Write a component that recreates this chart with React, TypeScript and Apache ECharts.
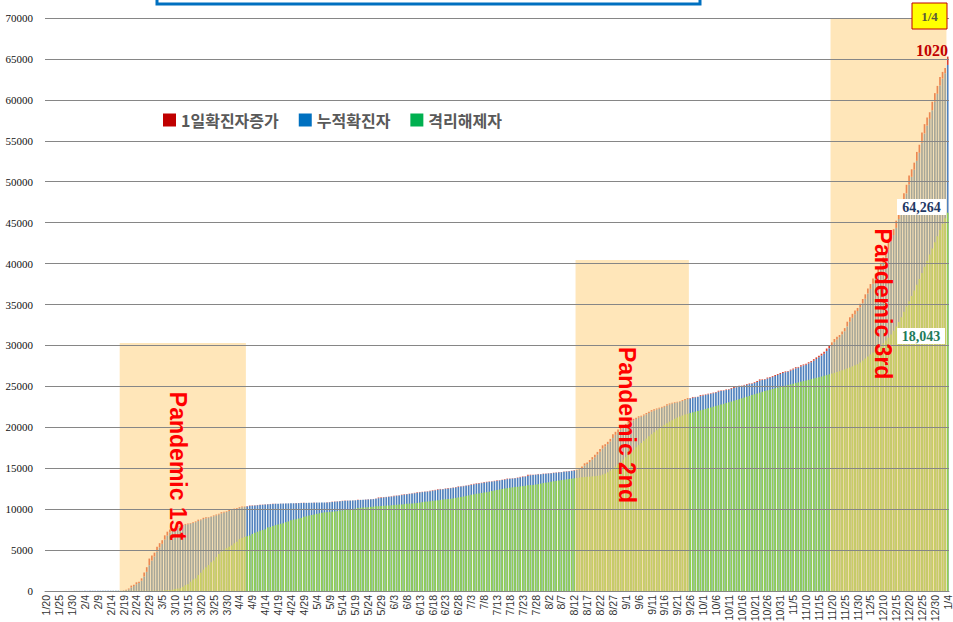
import React, { useEffect, useRef } from "react";
import * as echarts from "echarts";

// Cumulative confirmed cases (누적확진자), by month, 2020-01-20 .. 2021-01-04
const confirmedJan = [1, 1, 1, 1, 2, 2, 3, 4, 4, 4, 6, 11];
const confirmedFeb = [12, 15, 15, 16, 18, 23, 24, 24, 25, 27, 28, 28, 28, 28, 28, 29, 30, 31, 51, 104, 204, 433, 602, 833, 977, 1261, 1766, 2337, 3150];
const confirmedMar = [3736, 4212, 4812, 5328, 5766, 6284, 6767, 7134, 7382, 7513, 7755, 7869, 7979, 8086, 8162, 8236, 8320, 8413, 8565, 8652, 8799, 8897, 8961, 9037, 9137, 9241, 9332, 9478, 9583, 9661, 9786];
const confirmedApr = [9887, 9976, 10062, 10156, 10237, 10284, 10331, 10384, 10423, 10450, 10480, 10512, 10537, 10564, 10591, 10613, 10635, 10653, 10661, 10674, 10683, 10694, 10702, 10708, 10718, 10728, 10738, 10752, 10761, 10765];
const confirmedMay = [10774, 10780, 10793, 10801, 10804, 10806, 10810, 10822, 10840, 10874, 10909, 10936, 10962, 10991, 11018, 11037, 11050, 11065, 11078, 11110, 11122, 11142, 11165, 11190, 11206, 11225, 11265, 11344, 11402, 11441, 11468];
const confirmedJun = [11503, 11541, 11590, 11629, 11668, 11719, 11776, 11814, 11852, 11902, 11947, 12003, 12051, 12085, 12121, 12155, 12198, 12257, 12306, 12373, 12421, 12438, 12484, 12535, 12563, 12602, 12653, 12715, 12757, 12800];
const confirmedJul = [12850, 12904, 12967, 13030, 13091, 13137, 13181, 13244, 13293, 13338, 13373, 13417, 13479, 13512, 13551, 13612, 13672, 13711, 13745, 13771, 13816, 13879, 13938, 13979, 14092, 14150, 14175, 14203, 14251, 14269, 14305];
const confirmedAug = [14336, 14366, 14389, 14423, 14456, 14499, 14519, 14562, 14598, 14626, 14660, 14714, 14770, 14873, 15039, 15318, 15515, 15761, 16058, 16346, 16670, 17002, 17399, 17665, 17945, 18265, 18706, 19077, 19400, 19699, 19947];
const confirmedSep = [20182, 20449, 20644, 20842, 21010, 21177, 21296, 21432, 21588, 21743, 21919, 22055, 22176, 22285, 22391, 22504, 22657, 22783, 22893, 22975, 23045, 23106, 23216, 23341, 23455, 23516, 23611, 23661, 23699, 23812];
const confirmedOct = [23889, 23952, 24027, 24091, 24164, 24239, 24353, 24422, 24476, 24548, 24606, 24703, 24805, 24889, 24988, 25035, 25108, 25199, 25275, 25333, 25424, 25543, 25698, 25775, 25836, 25955, 26043, 26146, 26271, 26385, 26511];
const confirmedNov = [26635, 26732, 26807, 26925, 27050, 27195, 27284, 27427, 27553, 27653, 27799, 27942, 28133, 28338, 28546, 28769, 28998, 29311, 29654, 30017, 30403, 30733, 31004, 31353, 31735, 32318, 32887, 33375, 33824, 34201];
const confirmedDec = [34652, 35163, 35703, 36332, 36915, 37546, 38161, 38755, 39432, 40098, 40786, 41736, 42766, 43484, 44364, 45442, 46453, 47515, 48570, 49665, 50591, 51460, 52550, 53533, 54770, 55902, 56872, 57680, 58725, 59773, 60740];
const confirmedJan21 = [61769, 62593, 63244, 64264];

// Released from isolation (격리해제자)
const releasedJan = [0, 0, 0, 0, 0, 0, 0, 0, 0, 0, 0, 0];
const releasedFeb = [0, 0, 0, 0, 1, 2, 2, 2, 3, 3, 4, 7, 7, 7, 9, 9, 10, 12, 12, 16, 16, 16, 18, 18, 22, 22, 24, 26, 27];
const releasedMar = [30, 30, 30, 34, 41, 88, 108, 118, 166, 247, 288, 333, 510, 714, 834, 1137, 1401, 1540, 1947, 2233, 2612, 2909, 3166, 3507, 3730, 4144, 4528, 4811, 5033, 5228, 5408];
const releasedApr = [5567, 5828, 6021, 6325, 6463, 6598, 6694, 6776, 6973, 7117, 7243, 7368, 7447, 7534, 7757, 7829, 7937, 8042, 8114, 8213, 8277, 8411, 8501, 8635, 8717, 8764, 8854, 8922, 9072, 9123];
const releasedMay = [9218, 9283, 9333, 9419, 9484, 9568, 9610, 9632, 9666, 9695, 9720, 9762, 9821, 9851, 9888, 9904, 9938, 9970, 10066, 10135, 10162, 10194, 10213, 10226, 10275, 10295, 10340, 10363, 10398, 10405, 10422];
const releasedJun = [10446, 10467, 10506, 10531, 10552, 10570, 10611, 10654, 10669, 10691, 10718, 10760, 10801, 10856, 10888, 10930, 10974, 11020, 11048, 11075, 11135, 11172, 11209, 11227, 11266, 11317, 11364, 11429, 11496, 11537];
const releasedJul = [11613, 11684, 11759, 11811, 11880, 11914, 11970, 12019, 12065, 12132, 12204, 12282, 12348, 12396, 12466, 12527, 12553, 12610, 12655, 12698, 12729, 12780, 12812, 12848, 12905, 12929, 12959, 13007, 13049, 13117, 13191];
const releasedAug = [13233, 13280, 13352, 13411, 13457, 13504, 13543, 13583, 13642, 13669, 13719, 13770, 13817, 13863, 13901, 13917, 13946, 13971, 14006, 14019, 14063, 14123, 14220, 14340, 14500, 14700, 14920, 15180, 15450, 15750, 16050];
const releasedSep = [16350, 16650, 16950, 17250, 17550, 17820, 18080, 18350, 18620, 18890, 19150, 19400, 19640, 19870, 20090, 20300, 20500, 20690, 20870, 21040, 21190, 21320, 21440, 21550, 21650, 21740, 21830, 21910, 21990, 22070];
const releasedOct = [22150, 22240, 22330, 22420, 22510, 22600, 22690, 22780, 22870, 22960, 23050, 23140, 23230, 23330, 23430, 23530, 23630, 23730, 23830, 23930, 24030, 24130, 24230, 24330, 24420, 24510, 24600, 24680, 24760, 24840, 24920];
const releasedNov = [25000, 25080, 25160, 25240, 25320, 25400, 25480, 25560, 25640, 25720, 25800, 25880, 25960, 26040, 26120, 26200, 26290, 26380, 26470, 26560, 26650, 26750, 26850, 26960, 27070, 27190, 27310, 27440, 27570, 27700];
const releasedDec = [27900, 28150, 28400, 28650, 28900, 29150, 29400, 29650, 29950, 30250, 30600, 30950, 31350, 31800, 32300, 32850, 33450, 34100, 34750, 35400, 36050, 36700, 37400, 38100, 38850, 39600, 40350, 41100, 41850, 42600, 43350];
const releasedJan21 = [44100, 44850, 45550, 46221];

const yTicks = { min: 0, max: 70000, interval: 5000 };

// Shaded pandemic waves: first day, last day, top value
const waveNames = ["Pandemic 1st", "Pandemic 2nd", "Pandemic 3rd"];
const waveStart = ["2/18", "8/13", "11/20"];
const waveEnd = ["4/6", "9/25", "1/3"];
const waveTop = [30300, 40450, 70000];

const confirmed = [
  ...confirmedJan, ...confirmedFeb, ...confirmedMar, ...confirmedApr, ...confirmedMay, ...confirmedJun,
  ...confirmedJul, ...confirmedAug, ...confirmedSep, ...confirmedOct, ...confirmedNov, ...confirmedDec, ...confirmedJan21,
];
const released = [
  ...releasedJan, ...releasedFeb, ...releasedMar, ...releasedApr, ...releasedMay, ...releasedJun,
  ...releasedJul, ...releasedAug, ...releasedSep, ...releasedOct, ...releasedNov, ...releasedDec, ...releasedJan21,
];
const dailyIncrease = confirmed.map((v, i) => (i === 0 ? v : v - confirmed[i - 1]));

const dates: string[] = [];
{
  const d = new Date(2020, 0, 20);
  for (let i = 0; i < confirmed.length; i++) {
    dates.push(`${d.getMonth() + 1}/${d.getDate()}`);
    d.setDate(d.getDate() + 1);
  }
}

export default function App() {
  const ref = useRef<HTMLDivElement>(null);
  useEffect(() => {
    if (!ref.current) return;
    const chart = echarts.init(ref.current, undefined, { renderer: "svg" });
    const serif = "'Liberation Serif', 'Times New Roman', serif";
    const waveText = (i: number, x: number, y: number) => ({
      type: "text",
      x,
      y,
      rotation: -Math.PI / 2,
      z: 20,
      style: {
        text: waveNames[i],
        fill: "#FF0000",
        font: "bold 23px 'Liberation Sans', Arial, sans-serif",
        align: "center",
        verticalAlign: "middle",
      },
    });
    const option: any = {
      animation: false,
      backgroundColor: "#ffffff",
      grid: { left: 45, right: 4, top: 18, bottom: 31, containLabel: false, outerBoundsMode: "none" },
      legend: {
        left: 158,
        top: 107,
        itemWidth: 13,
        itemHeight: 13,
        itemGap: 20,
        icon: "rect",
        selectedMode: false,
        textStyle: {
          fontFamily: "'Noto Sans CJK KR', sans-serif",
          fontSize: 16,
          fontWeight: "bold",
          color: "#595959",
        },
        data: [
          { name: "1일확진자증가", itemStyle: { color: "#C00000" } },
          { name: "누적확진자", itemStyle: { color: "#0070C0" } },
          { name: "격리해제자", itemStyle: { color: "#00B050" } },
        ],
      },
      xAxis: [
        {
          type: "category",
          data: dates,
          boundaryGap: true,
          axisLine: { show: true, lineStyle: { color: "#868686", width: 1 } },
          axisTick: { show: false },
          axisLabel: {
            interval: 4,
            rotate: 90,
            fontSize: 10.5,
            color: "#333333",
            margin: 4,
            fontFamily: "'Liberation Sans', Arial, sans-serif",
          },
          splitLine: { show: false },
        },
        {
          // hidden index axis so shaded bands start/end on category edges
          type: "value",
          min: 0,
          max: dates.length,
          show: false,
        },
      ],
      yAxis: {
        type: "value",
        min: yTicks.min,
        max: yTicks.max,
        interval: yTicks.interval,
        z: 5,
        axisLine: { show: false },
        axisTick: { show: false },
        axisLabel: {
          fontSize: 11,
          color: "#111111",
          margin: 12,
          fontFamily: serif,
          formatter: (v: number) => String(v),
        },
        splitLine: { show: true, lineStyle: { color: "#868686", width: 1 } },
      },
      series: [
        {
          name: "누적확진자",
          type: "bar",
          stack: "c",
          data: confirmed,
          barCategoryGap: "35%",
          itemStyle: { color: "#4F81BD" },
        },
        {
          name: "1일확진자증가",
          type: "bar",
          stack: "c",
          data: dailyIncrease,
          itemStyle: { color: "#D9412E" },
        },
        {
          name: "격리해제자",
          type: "bar",
          data: released,
          barGap: "-100%",
          itemStyle: { color: "#92D050" },
        },
        {
          name: "waves",
          type: "scatter",
          xAxisIndex: 1,
          data: [],
          silent: true,
          markArea: {
            silent: true,
            z: 4,
            itemStyle: { color: "rgba(255,205,115,0.5)" },
            label: { show: false },
            data: waveNames.map((n, i) => [
              { name: n, xAxis: dates.indexOf(waveStart[i]), yAxis: 0 },
              { xAxis: dates.indexOf(waveEnd[i]) + 1, yAxis: waveTop[i] },
            ]),
          },
        },
      ],
      graphic: [
        {
          type: "rect",
          shape: { x: 157, y: -30, width: 543, height: 34 },
          style: { fill: "#ffffff", stroke: "#0070C0", lineWidth: 3 },
          z: 10,
        },
        waveText(0, 178, 466),
        waveText(1, 627, 425),
        waveText(2, 883, 304),
        {
          type: "rect",
          shape: { x: 912, y: 3, width: 35, height: 26 },
          style: { fill: "#FFFF00", stroke: "#C00000", lineWidth: 1 },
          z: 20,
        },
        {
          type: "text",
          x: 929.5,
          y: 16.5,
          z: 21,
          style: {
            text: "1/4",
            fill: "#5a5a3a",
            font: `bold 13px ${serif}`,
            align: "center",
            verticalAlign: "middle",
          },
        },
        {
          type: "text",
          x: 932,
          y: 50,
          z: 21,
          style: {
            text: String(dailyIncrease[dailyIncrease.length - 1]),
            fill: "#C00000",
            font: `bold 16px ${serif}`,
            align: "center",
            verticalAlign: "middle",
          },
        },
        {
          type: "rect",
          shape: { x: 897, y: 199, width: 49, height: 16 },
          style: { fill: "#ffffff" },
          z: 20,
        },
        {
          type: "text",
          x: 921.5,
          y: 207.5,
          z: 21,
          style: {
            text: confirmed[confirmed.length - 1].toLocaleString("en-US"),
            fill: "#1F3864",
            font: `bold 14px ${serif}`,
            align: "center",
            verticalAlign: "middle",
          },
        },
        {
          type: "rect",
          shape: { x: 897, y: 328, width: 48, height: 16 },
          style: { fill: "#ffffff" },
          z: 20,
        },
        {
          type: "text",
          x: 921,
          y: 336.5,
          z: 21,
          style: {
            text: (confirmed[confirmed.length - 1] - released[released.length - 1]).toLocaleString("en-US"),
            fill: "#1E7B5A",
            font: `bold 14px ${serif}`,
            align: "center",
            verticalAlign: "middle",
          },
        },
      ],
    };
    chart.setOption(option);
    return () => chart.dispose();
  }, []);
  return (
    <div
      ref={ref}
      style={{ position: "absolute", left: 0, top: 0, width: 953, height: 622 }}
    />
  );
}
